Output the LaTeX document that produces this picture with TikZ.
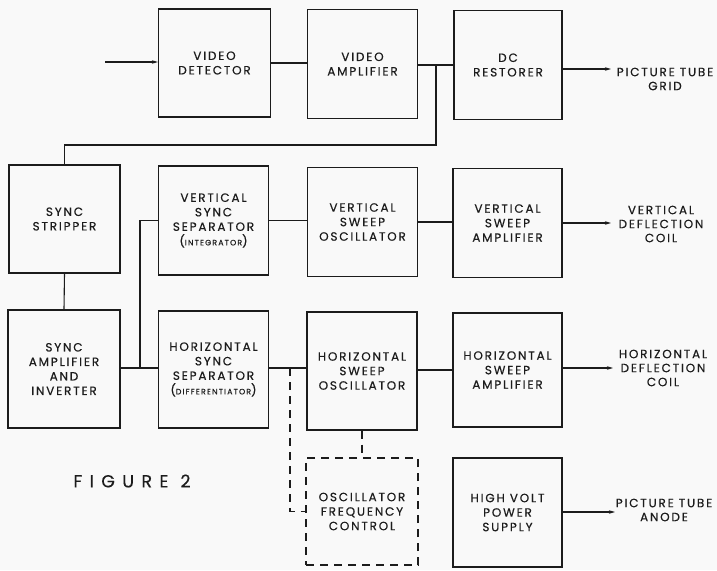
\documentclass[tikz,border=0pt]{standalone}
\usepackage{fontspec}
\setmainfont{Poppins}[LetterSpace=15, FakeBold=0.35]
\usetikzlibrary{arrows.meta}
\definecolor{bg}{RGB}{249,249,249}
\definecolor{ink}{RGB}{28,28,28}
\newcommand{\smallcap}[1]{{\fontsize{7.8}{14}\selectfont #1}}
\begin{document}
\begin{tikzpicture}[x=1pt,y=-1pt,
  blk/.style={draw=ink, line width=1.2pt, minimum width=110pt, minimum height=109pt,
    align=center, inner sep=2pt, font=\fontsize{12}{14.5}\selectfont, text=ink},
  dblk/.style={blk, dash pattern=on 8pt off 6pt},
  wire/.style={draw=ink, line width=1.1pt},
  dwire/.style={wire, dash pattern=on 8pt off 6pt},
  arr/.style={wire, -{Stealth[length=6pt,width=3.5pt]}},
  lbl/.style={align=center, font=\fontsize{12}{14}\selectfont, text=ink, inner sep=0pt}]
\fill[bg] (0,0) rectangle (717,570);
\useasboundingbox (0,0) rectangle (717,570);

% row 1
\node[blk, minimum width=112pt, minimum height=108pt] (vd) at (214.5,63) {VIDEO\\DETECTOR};
\node[blk] (va) at (362.5,64) {VIDEO\\AMPLIFIER};
\node[blk, minimum width=108pt] (dcr) at (508,65) {DC\\RESTORER};
% row 2
\node[blk, minimum width=111pt, minimum height=108pt] (ss) at (64.5,219) {SYNC\\STRIPPER};
\node[blk] (vss) at (213.5,220.5) {VERTICAL\\SYNC\\SEPARATOR\\(\smallcap{INTEGRATOR})};
\node[blk] (vso) at (362.5,222) {VERTICAL\\SWEEP\\OSCILLATOR};
\node[blk, minimum width=109pt] (vsa) at (507.5,223) {VERTICAL\\SWEEP\\AMPLIFIER};
% row 3
\node[blk, minimum width=112pt, minimum height=118pt] (sai) at (64,369) {SYNC\\AMPLIFIER\\AND\\INVERTER};
\node[blk, minimum height=117pt] (hss) at (213.5,369.5) {HORIZONTAL\\SYNC\\SEPARATOR\\(\smallcap{DIFFERENTIATOR})};
\node[blk, minimum height=118pt] (hso) at (362,371) {HORIZONTAL\\SWEEP\\OSCILLATOR};
\node[blk, minimum width=109pt, minimum height=114pt] (hsa) at (507.5,370) {HORIZONTAL\\SWEEP\\AMPLIFIER};
% row 4
\node[dblk, minimum width=112pt, minimum height=107pt] (ofc) at (362,511.5) {OSCILLATOR\\FREQUENCY\\CONTROL};
\node[blk, minimum width=109pt] (hv) at (507.5,512.5) {HIGH VOLT\\POWER\\SUPPLY};

% output labels
\node[lbl] (grid) at (665,79) {PICTURE TUBE\\GRID};
\node[lbl] (vdc) at (661,224) {VERTICAL\\DEFLECTION\\COIL};
\node[lbl] (hdc) at (663,368) {HORIZONTAL\\DEFLECTION\\COIL};
\node[lbl] (anode) at (664,510) {PICTURE TUBE\\ANODE};

\node[font=\fontsize{17.5}{20}\selectfont\addfontfeature{LetterSpace=42}, text=ink, inner sep=0pt] (fig) at (132,481) {FIGURE 2};

% coordinates
\coordinate (in) at (105,62);
\coordinate (j1) at (436,65);
\coordinate (c1) at (436,145);
\coordinate (j2) at (140,368);
\coordinate (j3) at (290,368);
\coordinate (og) at (611,69);
\coordinate (ov) at (611,223);
\coordinate (oh) at (613,368);
\coordinate (oa) at (615,512);

% connectors
\draw[arr] (in) -- (vd.west |- in);
\draw[wire] (vd.east) -- (va.west |- vd.east);
\draw[wire] (va.east |- j1) -- (dcr.west |- j1);
\draw[wire] (j1) -- (c1) -| (ss.north);
\draw[wire] (ss.south) -- (sai.north);
\draw[wire] (sai.east |- j2) -- (hss.west |- j2);
\draw[wire] (j2) |- (vss.west);
\draw[wire] (vss.east) -- (vso.west |- vss.east);
\draw[wire] (vso.east) -- (vsa.west |- vso.east);
\draw[wire] (hss.east |- j3) -- (hso.west |- j3);
\draw[wire] (hso.east |- hsa.west) -- (hsa.west);
\draw[dwire] (j3) |- (ofc.west);
\draw[dwire] (hso.south) -- (ofc.north);
\draw[arr] (dcr.east |- og) -- (og);
\draw[arr] (vsa.east |- ov) -- (ov);
\draw[arr] (hsa.east |- oh) -- (oh);
\draw[arr] (hv.east |- oa) -- (oa);
\end{tikzpicture}
\end{document}
